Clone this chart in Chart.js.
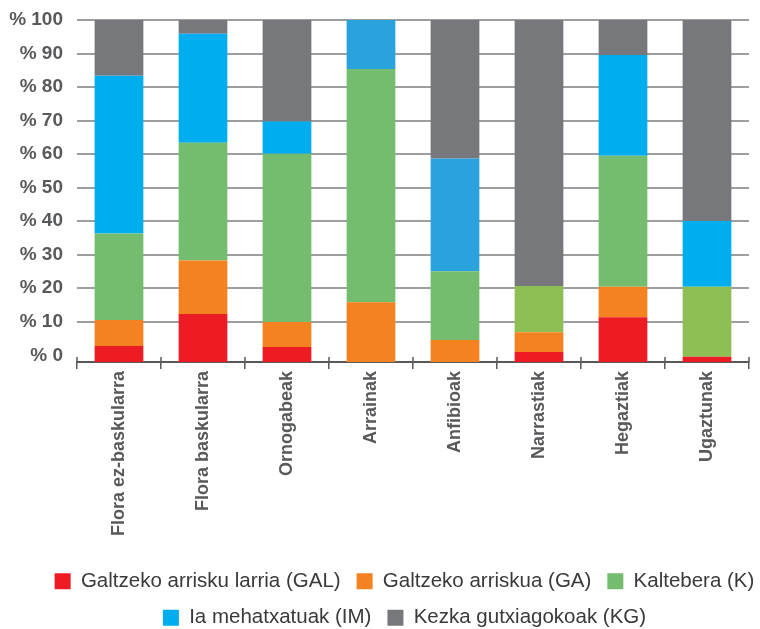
<!DOCTYPE html>
<html>
<head>
<meta charset="utf-8">
<script src="https://cdn.jsdelivr.net/npm/chart.js@4.4.1/dist/chart.umd.min.js"></script>
<style>
  html, body { margin: 0; padding: 0; background: #fff; }
  #wrap { width: 760px; height: 629px; }
</style>
</head>
<body>
<div id="wrap"><canvas id="chart"></canvas></div>
<script>
// Taldeak (kategoriak)
const categories = ['Flora ez-baskularra', 'Flora baskularra', 'Ornogabeak', 'Arrainak',
                    'Anfibioak', 'Narrastiak', 'Hegaztiak', 'Ugaztunak'];

// Ehunekoak, serie bakoitzeko (behetik gora)
const gal = [4.7, 14.0, 4.4, 0, 0, 2.9, 13.1, 1.5];
const ga  = [7.6, 15.7, 7.3, 17.5, 6.4, 5.8, 8.9, 0];
const k   = [25.3, 34.4, 49.2, 68.2, 20.1, 13.5, 38.3, 20.5];
const im  = [46.1, 31.9, 9.4, 14.3, 33.0, 0, 29.5, 19.2];
const kg  = [16.3, 4.0, 29.7, 0, 40.5, 77.8, 10.2, 58.8];

const seriesLabels = ['Galtzeko arrisku larria (GAL)', 'Galtzeko arriskua (GA)', 'Kaltebera (K)',
                      'Ia mehatxatuak (IM)', 'Kezka gutxiagokoak (KG)'];
const yTickValues = [0, 10, 20, 30, 40, 50, 60, 70, 80, 90, 100];

// Koloreak (barra batzuek tonu apur bat desberdina dute)
const greenShades = ['#74bd6f', '#74bd6f', '#74bd6f', '#74bd6f', '#74bd6f', '#8dbf52', '#74bd6f', '#8dbf52'];
const blueShades  = ['#00aeef', '#00aeef', '#00aeef', '#2aa2dc', '#2aa2dc', '#00aeef', '#00aeef', '#00aeef'];

function shade(list, legendColor) {
    return ctx => ctx.type === 'data' ? list[ctx.dataIndex] : legendColor;
}

Chart.defaults.font.family = "'Liberation Sans', Arial, Helvetica, sans-serif";

// Legenda apur bat eskuinera eta behera mugitu
const legendShift = {
    id: 'legendShift',
    afterLayout(chart) {
        const lg = chart.legend;
        if (!lg) return;
        lg.left += 30; lg.right += 30;
        lg.top += 9; lg.bottom += 9;
    }
};

// x ardatzeko marrak ardatzaren gainetik ere
const tickMarks = {
    id: 'tickMarks',
    afterDraw(chart) {
        const x = chart.scales.x;
        const c = chart.ctx;
        const y0 = chart.chartArea.bottom;
        c.save();
        c.strokeStyle = '#58595b';
        c.lineWidth = 1.5;
        c.beginPath();
        for (let i = 0; i <= categories.length; i++) {
            const px = x.left + (x.right - x.left) * i / categories.length;
            c.moveTo(px, y0 - 5);
            c.lineTo(px, y0);
        }
        c.stroke();
        c.restore();
    }
};

const ctx = document.getElementById('chart').getContext('2d');
const chart = new Chart(ctx, {
    type: 'bar',
    data: {
        labels: categories,
        datasets: [
            { label: seriesLabels[0], data: gal, backgroundColor: '#ed1c24' },
            { label: seriesLabels[1], data: ga,  backgroundColor: '#f58220' },
            { label: seriesLabels[2], data: k,   backgroundColor: shade(greenShades, '#74bd6f') },
            { label: seriesLabels[3], data: im,  backgroundColor: shade(blueShades, '#2aa2dc') },
            { label: seriesLabels[4], data: kg,  backgroundColor: '#77787b' }
        ]
    },
    options: {
        responsive: true,
        maintainAspectRatio: false,
        animation: false,
        layout: { padding: { top: 20, right: 11, left: 0, bottom: 0 } },
        datasets: { bar: { barPercentage: 0.58, categoryPercentage: 1, borderWidth: 0 } },
        scales: {
            x: {
                stacked: true,
                grid: { offset: true, drawOnChartArea: false, tickLength: 7, color: '#58595b', lineWidth: 1.5 },
                border: { display: true, color: '#58595b', width: 2 },
                ticks: {
                    autoSkip: false, minRotation: 90, maxRotation: 90, padding: 2,
                    color: '#58595b', font: { size: 18, weight: 'bold' }
                },
                afterFit: scale => { scale.height = 184; scale.paddingLeft = 0; scale.paddingRight = 0; }
            },
            y: {
                stacked: true, min: 0, max: 100, display: false
            },
            yPct: {
                position: 'left', min: -2, max: 100,
                afterBuildTicks: axis => { axis.ticks = yTickValues.map(v => ({ value: v })); },
                afterFit: scale => { scale.width = 77; scale.paddingTop = 0; scale.paddingBottom = 0; },
                border: { display: false },
                grid: {
                    drawTicks: false, lineWidth: 2, borderDash: [1.6, 2.6],
                    color: c => (c.tick && c.tick.value === 0) ? 'rgba(0,0,0,0)' : '#9d9ea1'
                },
                ticks: {
                    padding: 14, color: '#58595b', font: { size: 19, weight: 'bold' },
                    callback: v => '% ' + v
                }
            }
        },
        plugins: {
            legend: {
                position: 'bottom',
                labels: { boxWidth: 16, boxHeight: 16, padding: 16, color: '#3a3a3c', font: { size: 20.5 } }
            },
            tooltip: { enabled: false }
        }
    },
    plugins: [legendShift, tickMarks]
});
</script>
</body>
</html>
